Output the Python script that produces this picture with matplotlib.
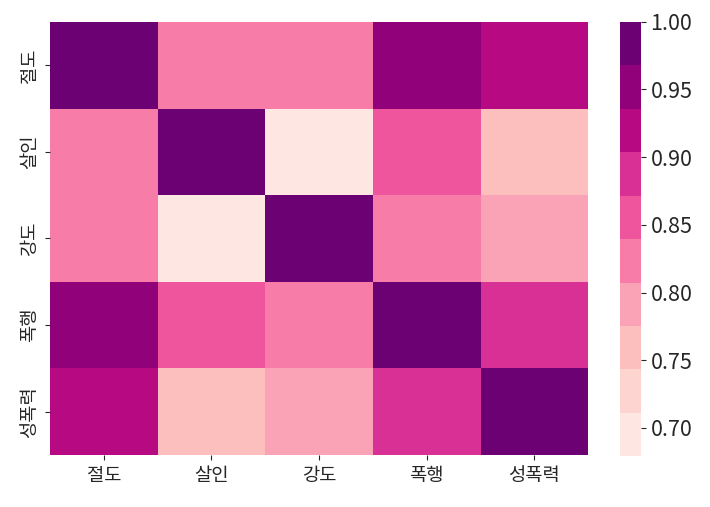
import pandas as pd
import matplotlib
matplotlib.use('Agg')
import matplotlib.pyplot as plt
import seaborn as sns

# crime categories and correlation values
crimes = ['절도', '살인', '강도', '폭행', '성폭력']
row_jeoldo = [1.00, 0.82, 0.82, 0.95, 0.92]
row_salin = [0.82, 1.00, 0.679, 0.86, 0.76]
row_gangdo = [0.82, 0.679, 1.00, 0.83, 0.79]
row_pokhaeng = [0.95, 0.86, 0.83, 1.00, 0.89]
row_seong = [0.92, 0.76, 0.79, 0.89, 1.00]

corr = pd.DataFrame([row_jeoldo, row_salin, row_gangdo, row_pokhaeng, row_seong],
                    index=crimes, columns=crimes)

plt.rcParams['font.family'] = ['Noto Sans CJK KR', 'DejaVu Sans']

fig = plt.figure(figsize=(7.1, 5.07), dpi=100)
ax = fig.add_axes([0.0704, 0.1026, 0.758, 0.854])
cax = fig.add_axes([0.873, 0.1, 0.0296, 0.857])

sns.heatmap(corr, cmap=sns.color_palette('RdPu', 10), ax=ax, cbar_ax=cax)

ax.tick_params(labelsize=13.5, colors='#262626')
ax.set_yticklabels(crimes, rotation=90, va='center')
ax.set_xticklabels(crimes, rotation=0)
cax.tick_params(labelsize=15.5, colors='#262626')
cax.set_yticks([0.70, 0.75, 0.80, 0.85, 0.90, 0.95, 1.00])
cax.set_yticklabels(['0.70', '0.75', '0.80', '0.85', '0.90', '0.95', '1.00'])

fig.savefig('out.png', dpi=100)
plt.close()
